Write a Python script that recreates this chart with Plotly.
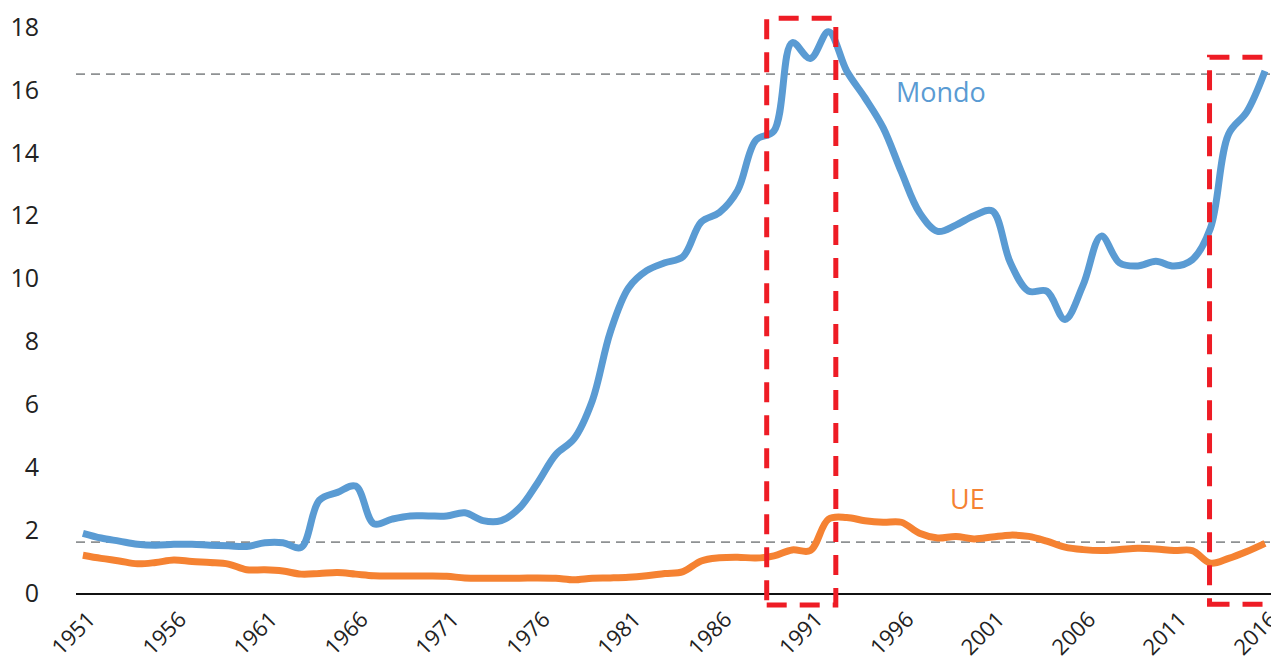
import plotly.graph_objects as go

years = list(range(1951, 2017))
mondo = [1.9, 1.75, 1.65, 1.55, 1.52, 1.55, 1.55, 1.52, 1.5, 1.48,
         1.6, 1.6, 1.45, 2.95, 3.2, 3.4, 2.2, 2.35, 2.45, 2.45,
         2.45, 2.55, 2.3, 2.3, 2.7, 3.5, 4.4, 4.9, 6.1, 8.3,
         9.7, 10.25, 10.5, 10.7, 11.8, 12.1, 12.8, 14.4, 14.7, 17.5,
         17.0, 17.85, 16.6, 15.75, 14.8, 13.4, 12.1, 11.5, 11.7, 12.0,
         12.15, 10.5, 9.6, 9.6, 8.7, 9.8, 11.35, 10.5, 10.4, 10.55,
         10.4, 10.6, 11.6, 14.6, 15.3, 16.6]
ue = [1.2, 1.1, 1.02, 0.93, 0.97, 1.05, 1.0, 0.97, 0.92, 0.74,
      0.74, 0.7, 0.6, 0.62, 0.65, 0.6, 0.55, 0.54, 0.54, 0.54,
      0.53, 0.48, 0.47, 0.47, 0.47, 0.48, 0.47, 0.42, 0.47, 0.48,
      0.5, 0.55, 0.62, 0.68, 1.02, 1.12, 1.14, 1.11, 1.18, 1.37,
      1.35, 2.35, 2.4, 2.3, 2.25, 2.25, 1.9, 1.75, 1.8, 1.72,
      1.78, 1.84, 1.8, 1.65, 1.46, 1.38, 1.35, 1.38, 1.42, 1.4,
      1.35, 1.35, 0.95, 1.1, 1.32, 1.58]

tick_years = list(range(1951, 2017, 5))
y_ticks = list(range(0, 19, 2))
ref_levels = [16.5, 1.62]
highlights = [(1988.6, 1992.4, -0.38, 18.28), (2012.95, 2016.6, -0.36, 17.04)]

X_RANGE = [1950.62, 2016.44]
Y_RANGE = [0, 18]

BLUE = "#5A9BD3"
ORANGE = "#F58232"
RED = "#EE1C25"
FONT = "Open Sans"


def px(v):
    return (v - X_RANGE[0]) / (X_RANGE[1] - X_RANGE[0])


def py(v):
    return (v - Y_RANGE[0]) / (Y_RANGE[1] - Y_RANGE[0])


fig = go.Figure()
fig.add_trace(go.Scatter(x=years, y=mondo, mode="lines", name="Mondo",
                         line=dict(color=BLUE, width=7, shape="spline", smoothing=1.0)))
fig.add_trace(go.Scatter(x=years, y=ue, mode="lines", name="UE",
                         line=dict(color=ORANGE, width=7, shape="spline", smoothing=1.0)))

for lv in ref_levels:
    fig.add_shape(type="line", xref="paper", yref="y", x0=0, x1=1, y0=lv, y1=lv,
                  line=dict(color="#8E9193", width=1.8, dash="9px,6px"), layer="below")

for x0, x1, y0, y1 in highlights:
    fig.add_shape(type="rect", xref="paper", yref="paper",
                  x0=px(x0), x1=px(x1), y0=py(y0), y1=py(y1),
                  line=dict(color=RED, width=5, dash="20px,13px"))

fig.add_annotation(x=1998.2, y=15.95, text="Mondo", showarrow=False,
                   font=dict(family=FONT, size=27, color=BLUE))
fig.add_annotation(x=1999.65, y=3.0, text="UE", showarrow=False,
                   font=dict(family=FONT, size=27, color=ORANGE))

# page body has an 8px default margin; the margins below compensate for it
fig.update_layout(
    width=1271, height=656,
    margin=dict(l=68, r=6, t=19, b=71, autoexpand=False),
    paper_bgcolor="white", plot_bgcolor="white",
    showlegend=False,
    font=dict(family=FONT, color="#222222"),
)
fig.update_xaxes(range=X_RANGE, tickvals=tick_years,
                 ticktext=[str(t) for t in tick_years], tickangle=-45,
                 showgrid=False, zeroline=False, showline=True,
                 linecolor="#111111", linewidth=1.5, ticks="",
                 tickfont=dict(family=FONT, size=22, color="#222222"),
                 ticklabelstandoff=3, ticklabelshift=6,
                 ticklabeloverflow="allow", automargin=False)
fig.update_yaxes(range=Y_RANGE, tickvals=y_ticks, showgrid=False,
                 zeroline=False, showline=False, ticks="",
                 tickfont=dict(family=FONT, size=25, color="#222222"),
                 ticklabelstandoff=36, automargin=False)

fig.write_html("out.html")
